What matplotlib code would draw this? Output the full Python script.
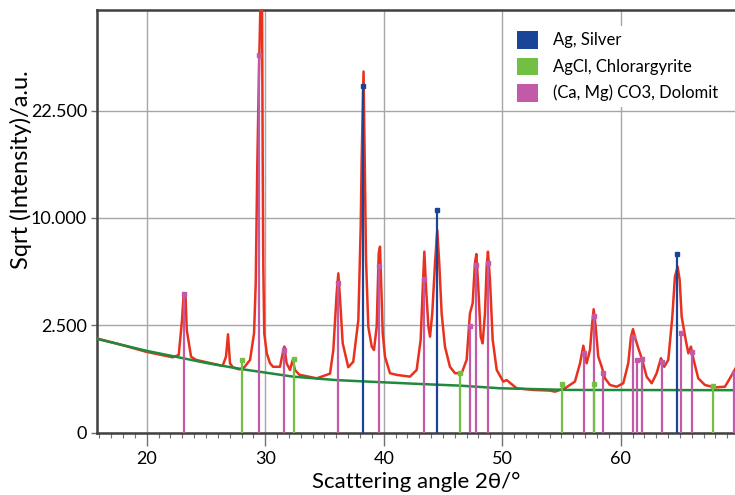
import matplotlib

matplotlib.use("Agg")
import matplotlib.pyplot as plt
import numpy as np
from matplotlib.patches import Patch
from matplotlib.ticker import FixedLocator, MultipleLocator

plt.rcParams["font.family"] = ["Lato", "DejaVu Sans"]

meas_2theta = [
    15.7, 17.41, 19.94, 22.19, 22.70, 22.98, 23.12, 23.28, 23.38, 23.74, 24.16,
    26.41, 26.69, 26.86, 27.03, 27.26, 27.81, 28.24, 28.72, 29.06, 29.20, 29.33,
    29.48, 29.62, 29.73, 29.79, 29.84, 29.92, 30.13, 30.40, 30.66, 31.25, 31.48,
    31.61, 31.81, 32.09, 32.32, 32.51, 32.88, 34.35, 35.47, 35.75, 36.03, 36.17,
    36.32, 36.54, 37.01, 37.43, 37.86, 38.06, 38.14, 38.30, 38.40, 38.51, 38.70,
    38.99, 39.18, 39.41, 39.58, 39.69, 39.77, 39.92, 40.11, 40.53, 41.10, 42.22,
    42.78, 43.12, 43.29, 43.43, 43.57, 43.77, 43.91, 44.10, 44.33, 44.52, 44.69,
    44.89, 45.17, 45.59, 46.02, 46.58, 47.00, 47.28, 47.51, 47.70, 47.82, 47.98,
    48.19, 48.35, 48.55, 48.69, 48.80, 48.97, 49.20, 49.54, 50.09, 50.38, 51.22,
    52.63, 54.03, 54.46, 55.30, 56.14, 56.57, 56.85, 57.13, 57.41, 57.60, 57.72,
    57.89, 58.11, 58.40, 58.68, 59.10, 59.66, 60.22, 60.64, 60.87, 61.04, 61.27,
    61.54, 61.82, 62.19, 62.62, 63.04, 63.40, 63.68, 64.02, 64.36, 64.58, 64.81,
    64.98, 65.15, 65.49, 65.71, 65.93, 66.16, 66.55, 67.11, 67.96, 68.80, 69.22,
    69.70,
]
meas_counts = [
    1936, 1731, 1421, 1232, 1310, 2756, 4225, 3969, 2285, 1253, 1149,
    967, 1253, 2098, 1043, 930, 870, 930, 1149, 2153, 4858, 15326,
    28900, 42025, 42025, 15326, 5929, 2144, 1369, 1050, 942, 942, 1376,
    1608, 1043, 853, 1149, 853, 729, 640, 756, 1482, 4212, 5506,
    3819, 1731, 930, 1089, 2756, 9216, 16129, 28291, 16129, 6464, 2440,
    1608, 1482, 2440, 6989, 7500, 5285, 2144, 1253, 767, 724, 681,
    853, 1866, 4422, 7106, 4624, 2440, 1998, 3091, 6225, 8911, 6225,
    3091, 1608, 942, 767, 767, 1149, 3091, 3636, 6225, 6922, 4624,
    1998, 1731, 3091, 5975, 7106, 5055, 1866, 853, 566, 600, 428,
    396, 384, 365, 428, 566, 1043, 1640, 1043, 1482, 2601, 3306,
    2440, 1253, 942, 640, 493, 458, 529, 1043, 1998, 2323, 1866,
    1482, 1149, 681, 529, 767, 1204, 942, 1149, 2916, 5285, 5975,
    5055, 2916, 1866, 1369, 1608, 1149, 640, 493, 445, 458, 640,
    900,
]

# fitted background
bg_2theta = [15.7, 20.0, 25.0, 28.0, 32.35, 36.0, 38.25, 43.0, 46.44, 49.8, 55.7, 69.7]
bg_counts = [1918, 1452, 1056, 876, 681, 600, 571, 515, 480, 428, 396, 392]

# reference patterns (stick positions and heights)
ag_2theta = [38.28, 44.47, 64.73]
ag_counts = [26115, 10795, 6906]

agcl_2theta = [28.02, 32.40, 46.47, 55.07, 57.72, 67.79]
agcl_counts = [1149, 1170, 778, 515, 515, 475]

dol_2theta = [23.12, 29.50, 31.59, 36.14, 39.63, 43.40, 47.31, 47.82, 48.80,
              56.93, 57.75, 58.48, 61.01, 61.40, 61.80, 63.49, 65.09, 66.04, 69.60]
dol_counts = [4160, 30976, 1475, 4886, 6022, 5141, 2480, 6100, 6273,
              1391, 2970, 778, 1989, 1136, 1176, 1082, 2144, 1414, 778]

phase_names = ["Ag, Silver", "AgCl, Chlorargyrite", "(Ca, Mg) CO3, Dolomit"]
phase_colors = ["#1a4597", "#72bf44", "#c25aa8"]

y_ticks = [0, 2500, 10000, 22500]
y_tick_labels = ["0", "2.500", "10.000", "22.500"]
x_ticks = [20, 30, 40, 50, 60]

fig = plt.figure(figsize=(7.35, 4.95), dpi=100)
ax = fig.add_axes([0.1316, 0.1259, 0.8684, 0.8545])


def fwd(v):
    return np.sqrt(np.clip(v, 0, None))


def inv(v):
    return np.square(v)


# y axis is linear in sqrt(intensity), ticks labelled in counts
ax.set_yscale("function", functions=(fwd, inv))

ax.plot(meas_2theta, meas_counts, color="#e8321e", lw=1.8, zorder=3)
ax.plot(bg_2theta, bg_counts, color="#1f8a3b", lw=1.8, zorder=3.5)

# sticks: dolomite first so the AgCl line at 57.7 stays on top
for xs, hs, col in [
    (dol_2theta, dol_counts, phase_colors[2]),
    (agcl_2theta, agcl_counts, phase_colors[1]),
    (ag_2theta, ag_counts, phase_colors[0]),
]:
    ax.vlines(xs, 0, hs, color=col, lw=1.6, zorder=4)
    ax.plot(xs, hs, "s", color=col, ms=3.5, zorder=4)

ax.set_xlim(15.78, 69.65)
ax.set_ylim(0, 38800)

ax.yaxis.set_major_locator(FixedLocator(y_ticks))
ax.set_yticklabels(y_tick_labels)
ax.xaxis.set_major_locator(FixedLocator(x_ticks))
ax.xaxis.set_minor_locator(MultipleLocator(1))

ax.grid(True, which="major", color="#a6a6a6", lw=1.0, zorder=0)
ax.set_axisbelow(True)

for side in ["left", "top", "bottom"]:
    ax.spines[side].set_color("#404040")
    ax.spines[side].set_linewidth(1.8)
ax.spines["right"].set_visible(False)

ax.tick_params(axis="x", which="major", length=9, width=1.0, color="#707070",
               labelsize=13, pad=4)
ax.tick_params(axis="x", which="minor", length=3.5, width=0.8, color="#707070")
ax.tick_params(axis="y", length=4, width=1.0, color="#707070", labelsize=13, pad=3)

ax.set_xlabel("Scattering angle 2θ/°", fontsize=16, labelpad=4)
ax.set_ylabel("Sqrt (Intensity)/a.u.", fontsize=17)
ax.yaxis.set_label_coords(-0.102, 0.623)

handles = [Patch(facecolor=c, edgecolor="none") for c in phase_colors]
leg = ax.legend(handles, phase_names, loc="upper left", bbox_to_anchor=(0.638, 0.981),
                fontsize=12, frameon=True, handlelength=1.25, handleheight=1.25,
                handletextpad=0.9, labelspacing=0.53, borderpad=0.3, fancybox=False)
leg.get_frame().set_edgecolor("none")
leg.get_frame().set_facecolor("white")
leg.get_frame().set_alpha(1.0)
leg.set_zorder(5)

fig.savefig("out.png", dpi=100)
